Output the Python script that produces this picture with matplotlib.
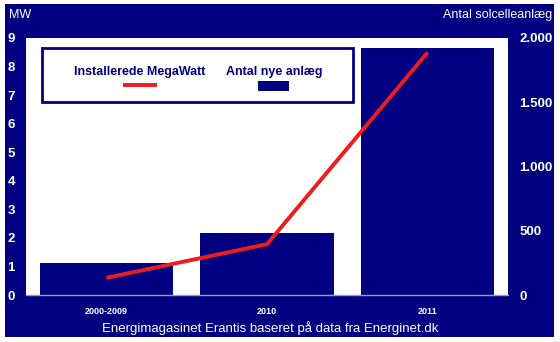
import matplotlib
matplotlib.use('Agg')
import matplotlib.pyplot as plt
from matplotlib.patches import Rectangle
from matplotlib.lines import Line2D
from matplotlib.ticker import FuncFormatter

plt.rcParams['font.family'] = ['Liberation Sans', 'DejaVu Sans']

periods = ['2000-2009', '2010', '2011']
new_plants = [251, 480, 1925]        # Antal nye anlæg (right axis)
installed_mw = [0.6, 1.78, 8.5]      # Installerede MegaWatt (left axis)
mw_ticks = list(range(0, 10))
plant_ticks = [0, 500, 1000, 1500, 2000]

navy = '#000080'
red = '#ee1c1c'

fig = plt.figure(figsize=(5.6, 3.42), dpi=100, facecolor='white')
fig.patches.append(Rectangle((5 / 560, 5 / 342), 549 / 560, 333 / 342,
                             transform=fig.transFigure, facecolor=navy,
                             edgecolor='none', zorder=-1))

ax = fig.add_axes([26 / 560, 47 / 342, 482 / 560, 257 / 342])
ax2 = ax.twinx()
ax.set_zorder(ax2.get_zorder() + 1)
ax.patch.set_visible(False)
ax2.patch.set_visible(True)
ax2.patch.set_facecolor('white')

x = list(range(len(periods)))
ax2.bar(x, new_plants, width=0.83, color=navy)
ax.plot(x, installed_mw, color=red, linewidth=2.8, solid_capstyle='butt')

ax.set_xlim(-0.5, 2.5)
ax.set_ylim(0, 9)
ax2.set_ylim(0, 2000)
ax.set_yticks(mw_ticks)
ax2.set_yticks(plant_ticks)
ax.set_xticks(x)
ax.set_xticklabels(periods)


def thousands(v, pos):
    return f'{int(v):,}'.replace(',', '.')


ax2.yaxis.set_major_formatter(FuncFormatter(thousands))

for a in (ax, ax2):
    for s in a.spines.values():
        s.set_visible(False)
ax.spines['bottom'].set_visible(True)
ax.spines['bottom'].set_color('#9a9ab8')
ax.spines['bottom'].set_linewidth(1)

ax.tick_params(axis='y', length=0, pad=8, labelcolor='white', labelsize=9.5)
ax2.tick_params(axis='y', length=0, pad=8, labelcolor='white', labelsize=9.5)
ax.tick_params(axis='x', length=0, pad=9, labelcolor='white', labelsize=6.5)
for lbl in ax.get_yticklabels() + ax2.get_yticklabels() + ax.get_xticklabels():
    lbl.set_fontweight('bold')

# legend box
ax.add_patch(Rectangle((0.0332, 0.751), 0.6452, 0.21, transform=ax.transAxes,
                       facecolor='white', edgecolor=navy, linewidth=2, zorder=5))
ax.text(0.2365, 0.868, 'Installerede MegaWatt', transform=ax.transAxes,
        ha='center', va='center', fontsize=9, fontweight='bold', color=navy, zorder=6)
ax.add_line(Line2D([0.2054, 0.2676], [0.817, 0.817], transform=ax.transAxes,
                   color=red, linewidth=2.8, zorder=6))
ax.text(0.5145, 0.868, 'Antal nye anlæg', transform=ax.transAxes,
        ha='center', va='center', fontsize=9, fontweight='bold', color=navy, zorder=6)
ax.add_patch(Rectangle((0.4813, 0.794), 0.0643, 0.039, transform=ax.transAxes,
                       facecolor=navy, edgecolor='none', zorder=6))

fig.text(9 / 560, 1 - 15 / 342, 'MW', ha='left', va='center', fontsize=9, color='white')
fig.text(552 / 560, 1 - 15 / 342, 'Antal solcelleanlæg', ha='right', va='center',
         fontsize=9, color='white')
fig.text(270 / 560, 1 - 328 / 342, 'Energimagasinet Erantis baseret på data fra Energinet.dk',
         ha='center', va='center', fontsize=9.5, color='white')

fig.savefig('out.png', dpi=100, facecolor=fig.get_facecolor())
